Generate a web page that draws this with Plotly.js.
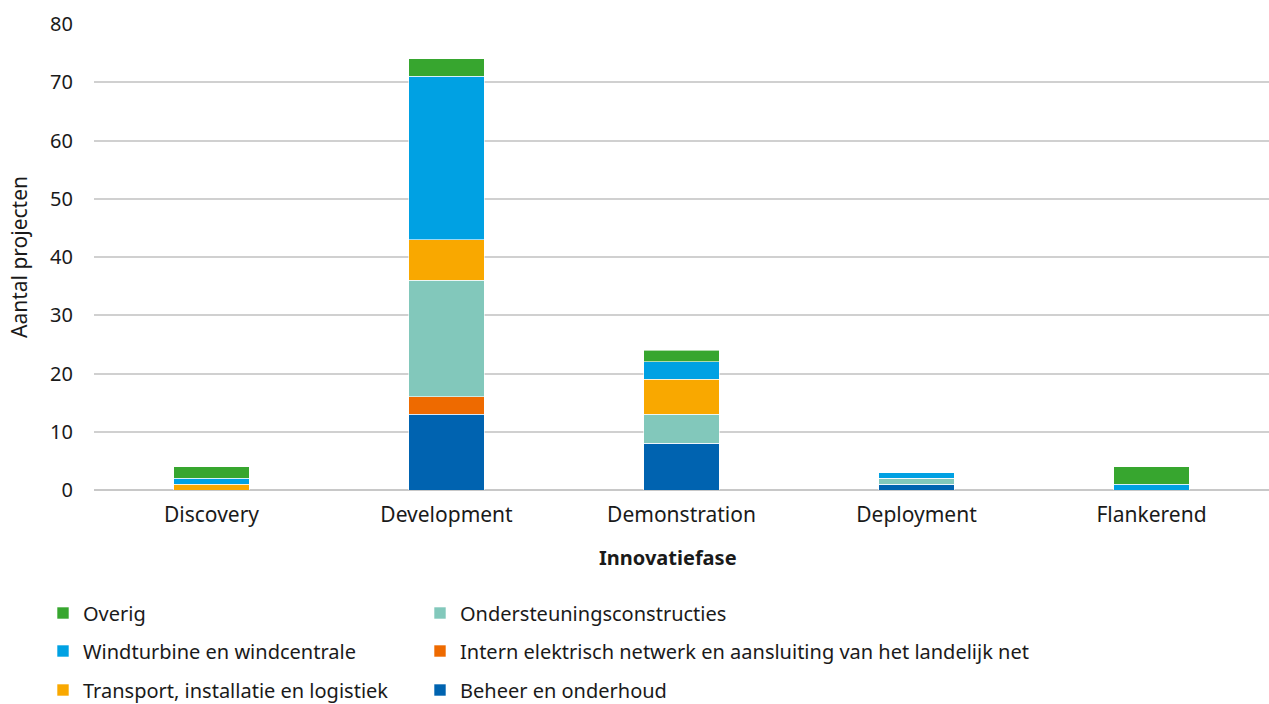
<!DOCTYPE html>
<html>
<head>
<meta charset="utf-8">
<script src="https://cdn.plot.ly/plotly-3.0.1.min.js"></script>
<style>html,body{margin:0;padding:0;background:#fff;}#chart{width:1269px;height:704px;}</style>
</head>
<body>
<div id="chart"></div>
<script>
const categories = ["Discovery", "Development", "Demonstration", "Deployment", "Flankerend"];
const beheer = [0, 13, 8, 1, 0];
const intern = [0, 3, 0, 0, 0];
const ondersteuning = [0, 20, 5, 1, 0];
const transport = [1, 7, 6, 0, 0];
const windturbine = [1, 28, 3, 1, 1];
const overig = [2, 3, 2, 0, 3];
const yTicks = [0, 10, 20, 30, 40, 50, 60, 70, 80];
const xTitle = "Innovatiefase";
const yTitle = "Aantal projecten";

const FONT = "Noto Sans, Open Sans, sans-serif";
function tr(name, y, color, legend) {
  return {type: "bar", name: name, x: categories, y: y, legend: legend,
    marker: {color: color, line: {color: "rgba(255,255,255,0.6)", width: 1}},
    hoverinfo: "none"};
}
const data = [
  tr("Beheer en onderhoud", beheer, "#0063b0", "legend6"),
  tr("Intern elektrisch netwerk en aansluiting van het landelijk net", intern, "#ee6a00", "legend5"),
  tr("Ondersteuningsconstructies", ondersteuning, "#82c8bb", "legend4"),
  tr("Transport, installatie en logistiek", transport, "#f9a800", "legend3"),
  tr("Windturbine en windcentrale", windturbine, "#00a1e3", "legend2"),
  tr("Overig", overig, "#37a62f", "legend")
];
const plotL = 94, plotR = 1269, plotT = 24, plotB = 490;
function px2x(p) { return (p - plotL) / (plotR - plotL); }
function px2y(p) { return (plotB - p) / (plotB - plotT); }
function leg(xp, yp) {
  return {orientation: "v", xanchor: "left", yanchor: "middle", x: px2x(xp), y: px2y(yp),
    font: {family: FONT, size: 20, color: "#1a1a1a"}, bgcolor: "rgba(0,0,0,0)", itemclick: false};
}
const layout = {
  width: 1269, height: 704,
  margin: {l: 94, r: 0, t: 24, b: 214, autoexpand: false},
  barmode: "stack", bargap: 0.68,
  paper_bgcolor: "#fff", plot_bgcolor: "#fff",
  font: {family: FONT, size: 18, color: "#1a1a1a"},
  xaxis: {tickvals: categories, ticktext: categories, showgrid: false, showline: false, ticks: "",
    ticklabelstandoff: 10, tickfont: {size: 21}},
  yaxis: {range: [0, 80], tickvals: yTicks, ticktext: yTicks.map(String), showgrid: true,
    gridcolor: "#d0d0d0", gridwidth: 2, zeroline: true, zerolinecolor: "#c8c8c8", zerolinewidth: 2,
    showline: false, ticks: "", ticklabelstandoff: 20, tickfont: {size: 20},
    title: {text: yTitle, font: {size: 21}, standoff: 16}},
  annotations: [{text: "<b>" + xTitle + "</b>", xref: "paper", yref: "paper",
    x: px2x(668), y: px2y(557), xanchor: "center", yanchor: "middle", showarrow: false,
    font: {family: FONT, size: 20, color: "#1a1a1a"}}],
  legend: leg(43, 613),
  legend2: leg(43, 651),
  legend3: leg(43, 690),
  legend4: leg(420, 613),
  legend5: leg(420, 651),
  legend6: leg(420, 690),
  showlegend: true
};
Plotly.newPlot("chart", data, layout, {displayModeBar: false, staticPlot: true});
</script>
</body>
</html>
